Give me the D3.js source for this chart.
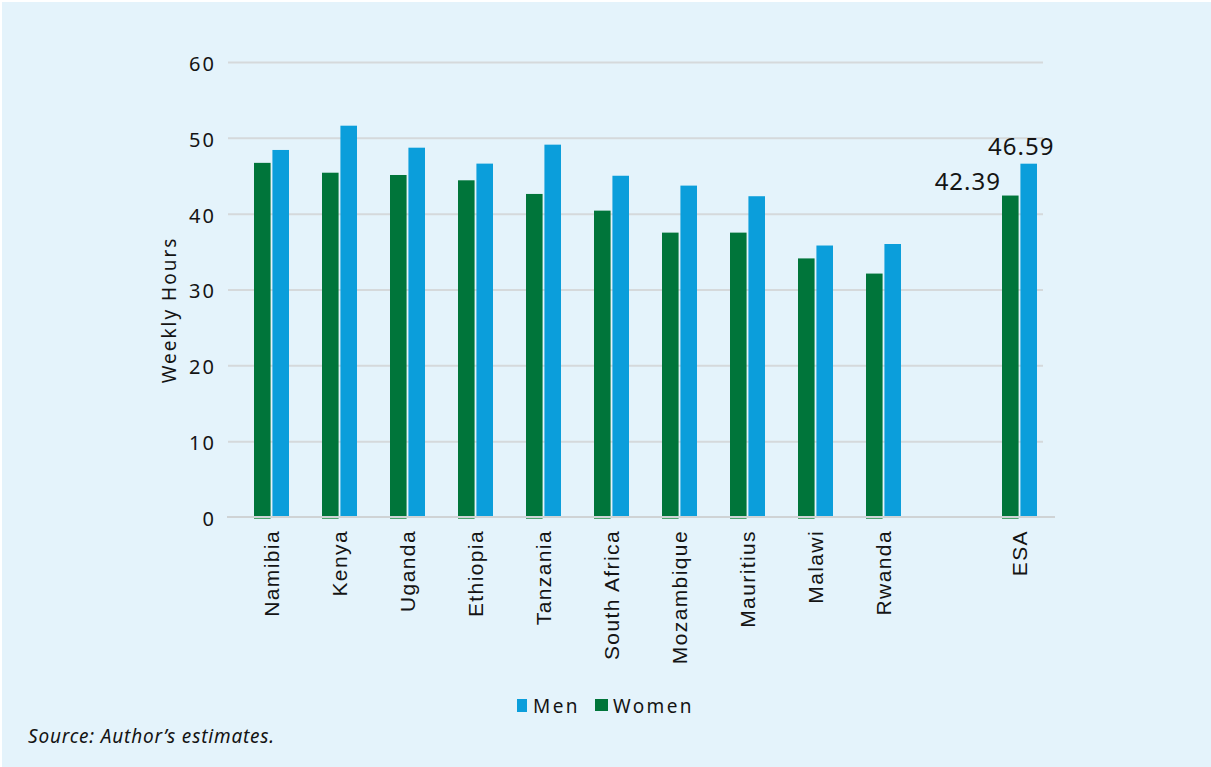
<!DOCTYPE html>
<html>
<head>
<meta charset="utf-8">
<script src="https://cdn.jsdelivr.net/npm/d3@7"></script>
<style>
  body { margin: 0; background: #ffffff; }
  svg { display: block; }
</style>
</head>
<body>
<svg id="chart" width="1211" height="767"></svg>
<script>
// Average weekly working hours by country, women vs men
const categories = ["Namibia", "Kenya", "Uganda", "Ethiopia", "Tanzania", "South Africa",
                    "Mozambique", "Mauritius", "Malawi", "Rwanda", " ", "ESA"];
const women = [46.7, 45.4, 45.1, 44.4, 42.6, 40.4, 37.5, 37.5, 34.1, 32.1, null, 42.39];
const men   = [48.4, 51.6, 48.7, 46.6, 49.1, 45.0, 43.7, 42.3, 35.8, 36.0, null, 46.59];
const yTicks = [0, 10, 20, 30, 40, 50, 60];
const seriesNames = ["Women", "Men"];
const labelledCategory = "ESA";
const colors = { Women: "#00753a", Men: "#0b9edb" };

const svg = d3.select("#chart");
const textColor = "#141414";
const uiFont = "'Noto Sans', sans-serif";

// panel background
svg.append("rect")
  .attr("x", 2).attr("y", 2)
  .attr("width", 1209).attr("height", 765)
  .attr("fill", "#e4f3fb");

const gridStart = 228, gridEnd = 1043;

const x = d3.scaleBand()
  .domain(categories)
  .range([237.5, 1053.5])
  .paddingInner(0).paddingOuter(0);

const xs = d3.scaleBand()
  .domain(seriesNames)
  .range([x.bandwidth() / 2 - 17.5, x.bandwidth() / 2 + 17.5])
  .paddingInner(0.1);

const y = d3.scaleLinear().domain([0, 60]).range([517, 62]);

// y axis: gridlines + tick labels
const yAxis = svg.append("g")
  .attr("transform", `translate(${gridStart},0)`)
  .call(d3.axisLeft(y).tickValues(yTicks).tickSize(-(gridEnd - gridStart)).tickPadding(12)
        .tickFormat(d3.format("d")));
yAxis.select(".domain").remove();
yAxis.selectAll(".tick line")
  .attr("stroke", "#d5d9db").attr("stroke-width", 2)
  .attr("opacity", d => d === 0 ? 0 : 1);
yAxis.selectAll(".tick text")
  .attr("fill", textColor)
  .attr("font-family", uiFont)
  .attr("font-size", 20)
  .attr("letter-spacing", 2)
  .attr("dy", "0.42em");

// y axis title
svg.append("text")
  .attr("transform", "translate(176,310) rotate(-90)")
  .attr("text-anchor", "middle")
  .attr("font-family", uiFont)
  .attr("font-size", 19)
  .attr("letter-spacing", 2)
  .attr("fill", textColor)
  .text("Weekly Hours");

// bars
const rows = categories.map((c, i) => ({ cat: c, Women: women[i], Men: men[i] }));
const groups = svg.append("g").selectAll("g")
  .data(rows.filter(r => r.Women != null))
  .join("g")
  .attr("transform", d => `translate(${x(d.cat)},0)`);

groups.selectAll("rect")
  .data(d => seriesNames.map(s => ({ s, v: d[s] })))
  .join("rect")
  .attr("x", d => xs(d.s))
  .attr("width", xs.bandwidth())
  .attr("y", d => y(d.v))
  .attr("height", d => y(0) - y(d.v))
  .attr("fill", d => colors[d.s]);

// x axis baseline
svg.append("line")
  .attr("x1", gridStart - 1).attr("x2", x.range()[1] + 1.5)
  .attr("y1", y(0)).attr("y2", y(0))
  .attr("stroke", "#cfd3d5").attr("stroke-width", 2);

// thin outline of the women bars below the baseline
groups.append("line")
  .attr("x1", xs("Women")).attr("x2", xs("Women") + xs.bandwidth())
  .attr("y1", y(0) + 1.5).attr("y2", y(0) + 1.5)
  .attr("stroke", "#4fa56f").attr("stroke-width", 1);

// category labels
const xAxis = svg.append("g")
  .attr("transform", `translate(0,${y(0)})`)
  .call(d3.axisBottom(x).tickSize(0).tickFormat(d => d.trim()));
xAxis.select(".domain").remove();
xAxis.selectAll(".tick text")
  .attr("transform", "rotate(-90)")
  .attr("x", -13).attr("y", 0)
  .attr("dy", "0.36em")
  .attr("text-anchor", "end")
  .attr("font-family", "'Liberation Sans', Arial, sans-serif")
  .attr("font-size", 21)
  .attr("letter-spacing", 1.4)
  .attr("fill", textColor);

// value labels on the regional average
const li = categories.indexOf(labelledCategory);
const lx = x(labelledCategory);
svg.append("text")
  .attr("x", lx + xs("Women") - 1)
  .attr("y", y(women[li]) - 6)
  .attr("text-anchor", "end")
  .attr("font-family", uiFont).attr("font-size", 24).attr("letter-spacing", 1)
  .attr("fill", textColor)
  .text(women[li].toFixed(2));
svg.append("text")
  .attr("x", lx + xs("Men") + xs.bandwidth() / 2 - 7.5)
  .attr("y", y(men[li]) - 9)
  .attr("text-anchor", "middle")
  .attr("font-family", uiFont).attr("font-size", 24).attr("letter-spacing", 1)
  .attr("fill", textColor)
  .text(men[li].toFixed(2));

// legend
const legend = svg.append("g");
const legendItems = [
  { name: "Men", sx: 517, sw: 10, sh: 13, tx: 533 },
  { name: "Women", sx: 595, sw: 13, sh: 12, tx: 613 }
];
legendItems.forEach(item => {
  legend.append("rect")
    .attr("x", item.sx).attr("y", 699)
    .attr("width", item.sw).attr("height", item.sh)
    .attr("fill", colors[item.name]);
  legend.append("text")
    .attr("x", item.tx).attr("y", 713)
    .attr("font-family", uiFont).attr("font-size", 19)
    .attr("letter-spacing", 2.4)
    .attr("fill", textColor)
    .text(item.name);
});

// source note
svg.append("text")
  .attr("x", 28).attr("y", 743)
  .attr("font-family", uiFont).attr("font-size", 19)
  .attr("font-style", "italic")
  .attr("letter-spacing", 0.8)
  .attr("fill", textColor)
  .text("Source: Author\u2019s estimates.");
</script>
</body>
</html>
